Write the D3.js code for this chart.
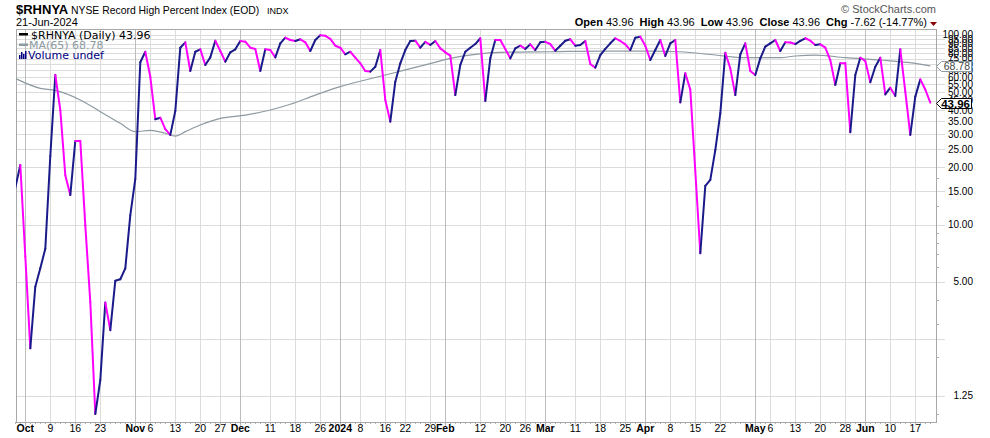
<!DOCTYPE html>
<html><head><meta charset="utf-8">
<script src="https://cdn.jsdelivr.net/npm/d3@7"></script>
<style>
body{margin:0;background:#fff;}
svg{display:block;font-family:"Liberation Sans",Arial,sans-serif;}
</style>
</head><body>
<svg id="chart" width="990" height="438"></svg>
<script>
// ---------- DATA ----------
const startDate = "2023-09-28", endDate = "2024-06-21";
const holidays = ["2023-11-23","2023-12-25","2024-01-01","2024-01-15","2024-02-19","2024-03-29","2024-05-27","2024-06-19"];

const valuesSep = [15.6, 20.6];
const valuesOct = [6.8, 2.22, 4.70, 5.87, 7.45, 23.0, 61.5, 40.2, 18.2, 14.3, 27.6, 27.6, 9.9, 3.9, 1.0, 1.51, 3.88, 2.77, 5.05, 5.14, 5.87, 11.2];
const valuesNov = [17.4, 71.8, 81.6, 60.2, 35.9, 36.6, 31.9, 29.7, 39.7, 85.7, 91.5, 64.6, 81.6, 84.0, 69.5, 76.2, 93.3, 82.3, 72.3, 81.0, 84.0];
const valuesDec = [93.0, 92.2, 85.7, 84.4, 64.6, 84.0, 83.3, 76.2, 90.4, 96.8, 94.1, 93.0, 94.9, 91.5, 82.3, 94.1, 99.6, 99.0, 95.3, 87.8];
const valuesJan = [85.7, 79.1, 81.6, 75.9, 70.9, 64.6, 64.1, 68.0, 83.3, 45.4, 34.9, 56.7, 70.9, 83.3, 93.0, 93.3, 85.7, 92.0, 88.6, 93.0, 85.0];
const valuesFeb = [81.0, 77.8, 48.2, 69.5, 81.6, 85.7, 89.6, 96.1, 44.9, 75.3, 94.1, 94.1, 84.4, 75.3, 85.0, 87.8, 84.4, 89.3, 83.3, 91.5];
const valuesMar = [92.0, 89.6, 82.6, 87.8, 93.3, 94.9, 87.8, 88.6, 93.0, 70.3, 67.2, 78.4, 84.4, 90.4, 96.1, 93.0, 89.3, 83.3, 96.8, 98.0];
const valuesApr = [87.8, 73.8, 83.3, 94.1, 77.5, 90.4, 94.1, 44.1, 62.8, 51.5, 19.1, 7.05, 16.0, 17.2, 24.7, 38.6, 80.6, 66.7, 48.2, 79.1, 90.4, 64.6];
const valuesMay = [61.5, 75.3, 86.8, 90.4, 94.1, 82.3, 91.5, 91.2, 89.6, 93.0, 96.1, 93.3, 88.6, 89.3, 85.7, 73.8, 54.5, 70.9, 70.9, 30.7, 61.5, 75.9];
const valuesJun = [72.9, 56.3, 68.0, 75.9, 48.6, 52.7, 47.7, 84.0, 50.2, 29.7, 47.3, 58.3, 51.58, 43.96];

const maDates = ["2023-09-28","2023-10-05","2023-10-10","2023-10-17","2023-10-23","2023-10-27","2023-11-01","2023-11-06","2023-11-09","2023-11-13","2023-11-15","2023-11-20","2023-11-27","2023-12-04","2023-12-11","2023-12-15","2023-12-22","2024-01-02","2024-01-09","2024-01-16","2024-01-22","2024-01-26","2024-02-02","2024-02-09","2024-02-16","2024-03-04","2024-03-18","2024-04-02","2024-04-10","2024-04-19","2024-04-29","2024-05-08","2024-05-13","2024-05-17","2024-05-28","2024-06-06","2024-06-17","2024-06-21"];
const maValues = [59, 52.3, 51.0, 45.4, 39.4, 34.2, 30.9, 31.4, 30.3, 29.3, 30.9, 33.5, 36.3, 37.8, 40.2, 43.1, 48.2, 53.4, 57.9, 61.5, 65.4, 69.5, 75.3, 79.1, 81.0, 81.6, 82.3, 82.3, 81.6, 78.4, 75.9, 75.9, 77.5, 78.4, 75.9, 73.8, 70.9, 68.78];

const tickDates = ["2023-10-02","2023-10-09","2023-10-16","2023-10-23","2023-11-01","2023-11-06","2023-11-13","2023-11-20","2023-11-27","2023-12-01","2023-12-11","2023-12-18","2023-12-26","2024-01-02","2024-01-08","2024-01-16","2024-01-22","2024-01-29","2024-02-01","2024-02-12","2024-02-20","2024-02-26","2024-03-01","2024-03-11","2024-03-18","2024-03-25","2024-04-01","2024-04-08","2024-04-15","2024-04-22","2024-05-01","2024-05-06","2024-05-13","2024-05-20","2024-05-28","2024-06-03","2024-06-10","2024-06-17"];
const tickLabels = ["Oct","9","16","23","Nov","6","13","20","27","Dec","11","18","26","2024","8","16","22","29","Feb","12","20","26","Mar","11","18","25","Apr","8","15","22","May","6","13","20","28","Jun","10","17"];
const monthLabels = ["Oct","Nov","Dec","2024","Feb","Mar","Apr","May","Jun"];

const gridValues = [1.25, 2.5, 5, 10, 15, 20, 25, 30, 35, 40, 45, 50, 55, 60, 65, 70, 75, 80, 85, 90, 95, 100];
const axisLabelValues = [1.25, 5, 10, 15, 20, 25, 30, 35, 40, 45, 50, 55, 60, 65, 70, 75, 80, 85, 90, 95, 100];
const minorTickValues = [1, 2, 3, 4, 6, 7, 8, 9, 12.5, 17.5];

const lastClose = 43.96, lastMA = 68.78;
const quote = {open: "43.96", high: "43.96", low: "43.96", close: "43.96", chg: "-7.62 (-14.77%)"};

// ---------- BUILD ----------
const values = [].concat(valuesSep, valuesOct, valuesNov, valuesDec, valuesJan, valuesFeb, valuesMar, valuesApr, valuesMay, valuesJun);
const parse = d3.utcParse("%Y-%m-%d"), fmt = d3.utcFormat("%Y-%m-%d");
const days = d3.utcDay.range(parse(startDate), d3.utcDay.offset(parse(endDate), 1))
  .filter(d => d.getUTCDay() % 6 !== 0 && !holidays.includes(fmt(d)));
const keys = days.map(fmt);
const pos = k => keys.indexOf(k);
const data = values.map((v, i) => ({i, v}));

const L = 16, R = 936, T = 29, B = 422;
const x = d3.scaleLinear().domain([0.14, 184.14]).range([L, R]);
const y = d3.scaleLog().domain([0.9074, 107.56]).range([B, T]);

const svg = d3.select("#chart");
svg.append("defs").append("clipPath").attr("id", "clip")
  .append("rect").attr("x", L).attr("y", T).attr("width", R - L).attr("height", B - T);

// horizontal grid
svg.append("g").selectAll("line").data(gridValues).join("line")
  .attr("x1", L).attr("x2", R + 9).attr("y1", d => Math.round(y(d)) + 0.5).attr("y2", d => Math.round(y(d)) + 0.5)
  .attr("stroke", "#dcdcdc").attr("stroke-width", 1);

// vertical grid
svg.append("g").selectAll("line").data(tickDates).join("line")
  .attr("x1", d => Math.round(x(pos(d))) + 0.5).attr("x2", d => Math.round(x(pos(d))) + 0.5)
  .attr("y1", T).attr("y2", B + 4)
  .attr("stroke", (d, i) => monthLabels.includes(tickLabels[i]) ? "#bdbdbd" : "#dcdcdc");

// daily ticks on bottom
svg.append("g").selectAll("line").data(keys).join("line")
  .attr("x1", (d, i) => Math.round(x(i)) + 0.5).attr("x2", (d, i) => Math.round(x(i)) + 0.5)
  .attr("y1", B).attr("y2", B + 2).attr("stroke", "#b0b0b0");

// minor ticks on right
svg.append("g").selectAll("line").data(minorTickValues).join("line")
  .attr("x1", R).attr("x2", R + 3).attr("y1", d => Math.round(y(d)) + 0.5).attr("y2", d => Math.round(y(d)) + 0.5)
  .attr("stroke", "#b0b0b0");

// frame
svg.append("rect").attr("x", L + 0.5).attr("y", T + 0.5).attr("width", R - L).attr("height", B - T)
  .attr("fill", "none").attr("stroke", "#a8a8a8");

// MA line
const maData = maDates.map((d, k) => ({i: pos(d), v: maValues[k]}));
svg.append("path").datum(maData).attr("clip-path", "url(#clip)")
  .attr("d", d3.line().x(d => x(d.i)).y(d => y(d.v)).curve(d3.curveMonotoneX))
  .attr("fill", "none").attr("stroke", "#8d9aa1").attr("stroke-width", 1.2);

// price line, coloured by direction
const seg = d3.line().x(d => x(d.i)).y(d => y(d.v));
const gPrice = svg.append("g").attr("clip-path", "url(#clip)");
for (let k = 1; k < data.length; k++) {
  const up = data[k].v > data[k - 1].v;
  gPrice.append("path").attr("d", seg([data[k - 1], data[k]]))
    .attr("fill", "none").attr("stroke", up ? "#1a1a8a" : "#ff00ff")
    .attr("stroke-width", 2).attr("stroke-linecap", "round");
}

// right axis labels
svg.append("g").selectAll("text").data(axisLabelValues).join("text")
  .attr("x", 973).attr("y", d => y(d)).attr("dy", "0.35em").attr("text-anchor", "end")
  .attr("font-size", 10).attr("fill", "#000")
  .text(d => d.toFixed(2));

// bottom labels
svg.append("g").selectAll("text").data(tickDates).join("text")
  .attr("x", d => x(pos(d))).attr("y", 432).attr("text-anchor", "middle")
  .attr("font-size", 10.5)
  .attr("font-weight", (d, i) => monthLabels.includes(tickLabels[i]) ? "bold" : "normal")
  .text((d, i) => tickLabels[i]);

// value boxes on right axis
function valueBox(v, label, stroke, color, bold) {
  const yy = Math.round(y(v));
  const g = svg.append("g");
  g.append("path")
    .attr("d", `M${R + 0.5},${yy + 0.5} L${R + 5.5},${yy - 4.5} L${971.5},${yy - 4.5} L${971.5},${yy + 5.5} L${R + 5.5},${yy + 5.5} Z`)
    .attr("fill", "#fff").attr("stroke", stroke);
  g.append("text").attr("x", 970).attr("y", yy + 0.5).attr("dy", "0.36em").attr("text-anchor", "end")
    .attr("font-size", bold ? 11.5 : 10.5).attr("font-weight", bold ? "bold" : "normal")
    .attr("fill", color).text(label);
}
valueBox(lastMA, lastMA.toFixed(2), "#8d9aa1", "#444", false);
valueBox(lastClose, lastClose.toFixed(2), "#000", "#000", true);

// legend
const lg = svg.append("g").attr("font-family", "'DejaVu Sans', Verdana, sans-serif").attr("font-size", 11);
lg.append("rect").attr("x", 19).attr("y", 33).attr("width", 9).attr("height", 2.5).attr("fill", "#000");
lg.append("text").attr("x", 31).attr("y", 38.5).attr("fill", "#000").text(`$RHNYA (Daily) ${lastClose.toFixed(2)}`);
lg.append("rect").attr("x", 19).attr("y", 43.5).attr("width", 9).attr("height", 2.5).attr("fill", "#8d9aa1");
lg.append("text").attr("x", 29).attr("y", 49).attr("fill", "#8d9aa1").text(`MA(65) ${lastMA.toFixed(2)}`);
[[19, 4], [21, 7], [23, 5], [25, 8]].forEach(([bx, h]) =>
  lg.append("rect").attr("x", bx).attr("y", 59 - h).attr("width", 1.5).attr("height", h).attr("fill", "#000080"));
lg.append("text").attr("x", 28).attr("y", 59).attr("fill", "#000080").text("Volume undef");

// header
svg.append("text").attr("x", 16).attr("y", 13.5).attr("font-size", 13).attr("font-weight", "bold").text("$RHNYA");
svg.append("text").attr("x", 71).attr("y", 13.5).attr("font-size", 10.4).text("NYSE Record High Percent Index (EOD)");
svg.append("text").attr("x", 267).attr("y", 13.5).attr("font-size", 9).text("INDX");
svg.append("text").attr("x", 16).attr("y", 26).attr("font-size", 11).text("21-Jun-2024");
svg.append("text").attr("x", 936).attr("y", 13).attr("font-size", 11).attr("fill", "#555")
  .attr("text-anchor", "end").text("\u00A9 StockCharts.com");
const q = svg.append("text").attr("x", 927).attr("y", 26).attr("font-size", 11).attr("text-anchor", "end")
  .attr("style", "white-space:pre");
[["Open ", true], [quote.open + "  ", false], ["High ", true], [quote.high + "  ", false],
 ["Low ", true], [quote.low + "  ", false], ["Close ", true], [quote.close + "  ", false],
 ["Chg ", true], [quote.chg, false]].forEach(([t, b]) =>
  q.append("tspan").attr("font-weight", b ? "bold" : "normal").text(t));
svg.append("path").attr("d", "M930,22 L937,22 L933.5,26 Z").attr("fill", "#8b0000");
</script>
</body></html>
